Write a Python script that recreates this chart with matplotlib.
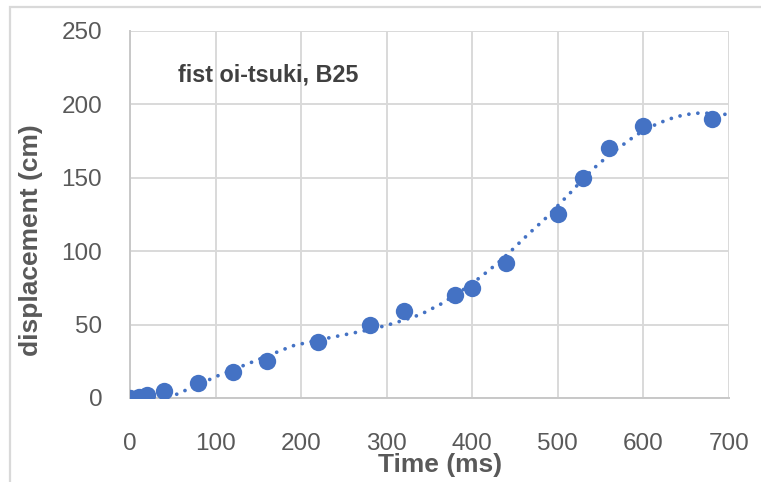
import matplotlib
matplotlib.use("Agg")
import matplotlib.pyplot as plt
from matplotlib.patches import Rectangle

time_ms = [0, 10, 20, 40, 80, 120, 160, 220, 280, 320, 380, 400, 440, 500, 530, 560, 600, 680]
displacement_cm = [0, 1, 2, 4.5, 10, 18, 25, 38, 50, 59, 70, 75, 92, 125, 150, 170, 185, 190]

# dotted trendline, sampled along the curve drawn in the chart
trend_ms = [45, 60, 80, 100, 130, 160, 190, 220, 250, 280, 300, 320, 340, 365, 390,
            410, 430, 445, 460, 470, 485, 500, 515, 530, 545, 560, 575, 590, 600,
            615, 630, 645, 660, 680, 700]
trend_cm = [0, 4, 9, 14.5, 21.5, 28.5, 35.5, 39.5, 43, 46.5, 49.5, 53, 57, 64.5, 74,
            82.5, 92, 100, 108.5, 114, 122, 131, 140, 149.5, 158, 165.5, 172, 178.5, 182,
            186.5, 190, 192.5, 194, 194, 193]

x_ticks = [0, 100, 200, 300, 400, 500, 600, 700]
y_ticks = [0, 50, 100, 150, 200, 250]

label_text = "fist oi-tsuki, B25"

blue = "#4472C4"
grid_gray = "#D9D9D9"
text_gray = "#595959"

plt.rcParams['font.family'] = ['Liberation Sans', 'DejaVu Sans']

fig = plt.figure(figsize=(7.61, 4.82), dpi=100)
ax = fig.add_axes([0.1708, 0.1743, 0.7871, 0.7614])

# outer chart frame (only top and left edges visible in the crop)
frame = Rectangle((10 / 761, -0.1), 1.2, (482 - 7) / 482 + 0.1,
                  transform=fig.transFigure, fill=False,
                  edgecolor=grid_gray, linewidth=1.6)
fig.add_artist(frame)

ax.plot(trend_ms, trend_cm, color=blue, linewidth=2.7,
        linestyle=(0, (0.01, 2.4)), dash_capstyle='round', zorder=2)

ax.plot(time_ms, displacement_cm, 'o', color=blue, markersize=12.5,
        markeredgewidth=0, zorder=3)

ax.set_xlim(0, 700)
ax.set_ylim(0, 250)
ax.set_xticks(x_ticks)
ax.set_yticks(y_ticks)
ax.grid(True, color=grid_gray, linewidth=1.4)
ax.set_axisbelow(True)

for side in ['top', 'right']:
    ax.spines[side].set_visible(False)
for side in ['left', 'bottom']:
    ax.spines[side].set_color("#C8C8C8")
    ax.spines[side].set_linewidth(1.4)

ax.tick_params(axis='both', length=0, labelsize=17.5, labelcolor=text_gray)
ax.tick_params(axis='x', pad=25)
ax.tick_params(axis='y', pad=20)

ax.set_xlabel("Time (ms)", fontsize=19, fontweight='bold', color=text_gray)
ax.set_ylabel("displacement (cm)", fontsize=19, fontweight='bold', color=text_gray)
ax.xaxis.set_label_coords(0.5175, -0.15)
ax.yaxis.set_label_coords(-0.145, 0.43)

ax.text(56, 220, label_text, fontsize=16.8, fontweight='bold', color="#404040",
        va='center', ha='left')

fig.savefig("out.png", dpi=100)
